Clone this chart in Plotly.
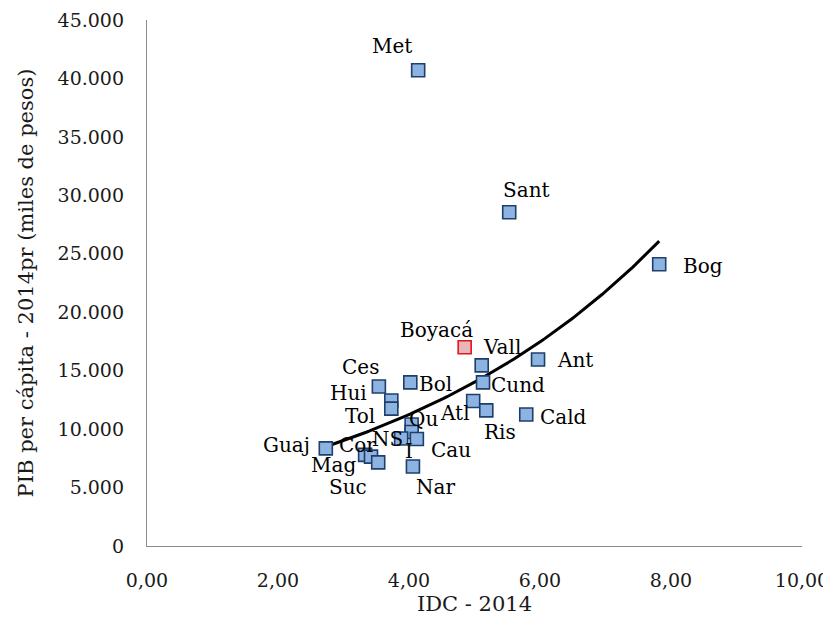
import numpy as np
import plotly.graph_objects as go

# Data
names = ["Met", "Sant", "Bog", "Boyacá", "Vall", "Ant", "Cund", "Bol", "Ces", "Hui",
         "Tol", "Atl", "Ris", "Cald", "Qu", "I", "NS", "Cau", "Guaj", "Cor", "Mag",
         "Suc", "Nar"]
idc = [4.14, 5.53, 7.82, 4.85, 5.11, 5.97, 5.13, 4.02, 3.54, 3.73,
       3.73, 4.98, 5.18, 5.79, 4.04, 4.04, 3.88, 4.12, 2.73, 3.33, 3.42,
       3.53, 4.06]
pib = [40700, 28550, 24100, 17000, 15450, 15950, 14000, 14000, 13650, 12450,
       11750, 12400, 11600, 11250, 10400, 9750, 9200, 9150, 8350, 7800, 7650,
       7150, 6800]

x_ticks = [0, 2, 4, 6, 8, 10]
x_ticklabels = ["0,00", "2,00", "4,00", "6,00", "8,00", "10,00"]
y_ticks = [0, 5000, 10000, 15000, 20000, 25000, 30000, 35000, 40000, 45000]
y_ticklabels = ["0", "5.000", "10.000", "15.000", "20.000", "25.000", "30.000",
                "35.000", "40.000", "45.000"]

# label offsets (pixels) relative to each point
label_dx = [-26, 17, 44, -28, 20, 37, 35, 25, -18, -43,
            -31, -18, 14, 37, 12, -3, -14, 34, -39, -8, -38,
            -30, 23]
label_dy = [24, 22, -2, 17, 18, 0, -3, -2, 19, 7,
            -7, -12, -22, -2, 5, -19, -1, -11, 3, 10, -8,
            -25, -20]

FONT = "DejaVu Serif"

fig = go.Figure()

# Exponential trendline (least squares on log values, as a spreadsheet would)
xa = np.array(idc)
ya = np.array(pib)
b, lna = np.polyfit(xa, np.log(ya), 1)
tx = np.linspace(xa.min(), xa.max(), 100)
ty = np.exp(lna) * np.exp(b * tx)
fig.add_trace(go.Scatter(x=tx, y=ty, mode="lines",
                         line=dict(color="black", width=3), hoverinfo="skip"))

fill = ["#E6B9B8" if n == "Boyacá" else "#8DB3E2" for n in names]
edge = ["#E8141B" if n == "Boyacá" else "#1F3F6A" for n in names]
fig.add_trace(go.Scatter(x=idc, y=pib, mode="markers",
                         marker=dict(symbol="square", size=13, color=fill,
                                     line=dict(color=edge, width=1.6))))

for n, x, y, dx, dy in zip(names, idc, pib, label_dx, label_dy):
    fig.add_annotation(x=x, y=y, text=n, showarrow=False, xshift=dx, yshift=dy,
                       font=dict(family=FONT, size=20, color="black"))

fig.update_layout(
    width=831, height=628,
    margin=dict(l=139, r=37, t=12, b=90),
    paper_bgcolor="white", plot_bgcolor="white",
    showlegend=False,
    font=dict(family=FONT, size=19, color="#1a1a1a"),
    xaxis=dict(range=[0, 10], tickvals=x_ticks, ticktext=x_ticklabels,
               showgrid=False, zeroline=False, showline=True, automargin=False,
               linecolor="#8c8c8c", linewidth=1.3, ticks="", ticklabelstandoff=17,
               title=dict(text="IDC - 2014", font=dict(family=FONT, size=21), standoff=6)),
    yaxis=dict(range=[0, 45000], tickvals=y_ticks, ticktext=y_ticklabels,
               showgrid=False, zeroline=False, showline=True, automargin=False,
               linecolor="#8c8c8c", linewidth=1.3, ticks="", ticklabelstandoff=18,
               title=dict(text="PIB per cápita - 2014pr (miles de pesos)",
                          font=dict(family=FONT, size=21), standoff=18)),
)

fig.write_html("out.html")
